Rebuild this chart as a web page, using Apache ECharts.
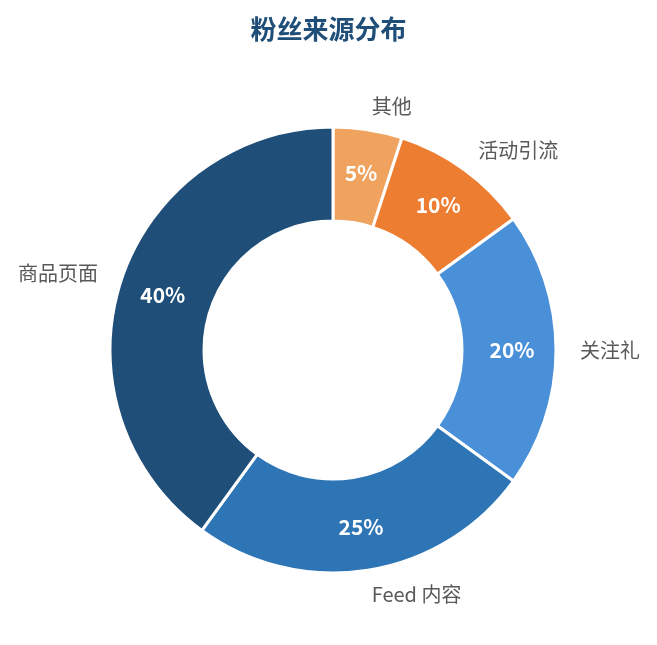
<!DOCTYPE html>
<html>
<head>
<meta charset="utf-8">
<script src="https://cdn.jsdelivr.net/npm/echarts@6/dist/echarts.min.js"></script>
<style>
html,body{margin:0;padding:0;background:#fff;}
#main{width:657px;height:645px;}
</style>
</head>
<body>
<div id="main"></div>
<script>
const titleText = '粉丝来源分布';
const categories = ['其他', '活动引流', '关注礼', 'Feed 内容', '商品页面'];
const values = [5, 10, 20, 25, 40];
const colors = ['#f0a35f', '#ed7d31', '#4a90d9', '#2e75b6', '#1f4e79'];

const chart = echarts.init(document.getElementById('main'));
const data = categories.map((c, i) => ({ name: c, value: values[i], itemStyle: { color: colors[i] } }));
const fontFamily = '"Noto Sans CJK SC", "Noto Sans", sans-serif';

chart.setOption({
  animation: false,
  title: {
    text: titleText,
    left: 'center',
    top: 11,
    textStyle: { fontSize: 26, fontWeight: 'bold', color: '#1f4e79', fontFamily: fontFamily }
  },
  series: [
    {
      type: 'pie',
      center: [333, 350],
      radius: [129, 223],
      startAngle: 90,
      clockwise: true,
      itemStyle: { borderColor: '#fff', borderWidth: 3 },
      label: {
        show: true,
        position: 'inside',
        formatter: '{c}%',
        color: '#fff',
        fontSize: 21,
        fontWeight: 'bold',
        fontFamily: fontFamily
      },
      labelLine: { show: false },
      emphasis: { disabled: true },
      data: data
    },
    {
      type: 'pie',
      center: [333, 350],
      radius: [129, 222],
      startAngle: 90,
      clockwise: true,
      silent: true,
      z: 1,
      itemStyle: { color: 'transparent', borderWidth: 0 },
      label: {
        show: true,
        position: 'outside',
        formatter: '{b}',
        color: '#595959',
        fontSize: 20,
        fontFamily: fontFamily,
        distanceToLabelLine: 0
      },
      labelLine: { show: false, length: 25, length2: 0 },
      emphasis: { disabled: true },
      data: categories.map((c, i) => ({ name: c, value: values[i] }))
    }
  ]
});
</script>
</body>
</html>
